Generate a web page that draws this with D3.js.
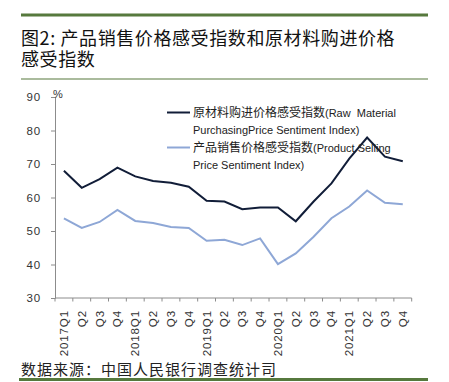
<!DOCTYPE html>
<html><head><meta charset="utf-8">
<script src="https://cdn.jsdelivr.net/npm/d3@7"></script>
<style>
html,body{margin:0;padding:0;background:#fff;}
svg{display:block;}
</style></head>
<body>
<script>
const categories = ["2017Q1","Q2","Q3","Q4","2018Q1","Q2","Q3","Q4","2019Q1","Q2","Q3","Q4","2020Q1","Q2","Q3","Q4","2021Q1","Q2","Q3","Q4"];
const rawMaterial = [68.0,62.9,65.5,68.9,66.3,64.9,64.4,63.2,59.0,58.8,56.5,57.0,57.0,52.9,58.8,64.2,71.6,77.9,72.2,70.8];
const productSelling = [53.8,50.9,52.7,56.3,53.0,52.4,51.2,50.9,47.1,47.4,45.8,47.8,40.1,43.3,48.3,53.8,57.3,62.1,58.4,58.0];
const yTicks = [30,40,50,60,70,80,90];
const titleLines = ["图2: 产品销售价格感受指数和原材料购进价格","感受指数"];
const legendRaw = ["原材料购进价格感受指数(Raw  Material","PurchasingPrice Sentiment Index)"];
const legendProd = ["产品销售价格感受指数(Product Selling","Price Sentiment Index)"];
const sourceText = "数据来源：中国人民银行调查统计司";

const W = 449, H = 382;
const svg = d3.select("body").append("svg").attr("width", W).attr("height", H);
const green = "#56793d";
const cjk = "'Noto Sans CJK SC', sans-serif";

// header
svg.append("rect").attr("x",21).attr("y",13.5).attr("width",407).attr("height",3).attr("fill",green);
svg.append("rect").attr("x",21).attr("y",78.5).attr("width",407).attr("height",1).attr("fill",green);
const title = svg.append("text").attr("x",21).attr("y",45).attr("font-family",cjk)
  .attr("font-size",18).attr("letter-spacing",0.6).attr("fill","#111");
titleLines.forEach((t,i)=>{
  title.append("tspan").attr("x",21).attr("dy", i===0 ? 0 : 21).text(t);
});

// footer
svg.append("text").attr("x",21).attr("y",374.5).attr("font-family",cjk).attr("font-size",15)
  .attr("fill","#222").attr("letter-spacing",1).text(sourceText);
svg.append("rect").attr("x",19).attr("y",378).attr("width",409).attr("height",3).attr("fill",green);

// scales
const x = d3.scaleBand().domain(d3.range(categories.length)).range([55,411.7]);
const y = d3.scaleLinear().domain([30,90]).range([298,97]);
const axisColor = "#8c8c8c";
const tickFont = "'Liberation Sans', Arial, sans-serif";

// y axis
const yAxis = svg.append("g").attr("transform","translate(55,0)")
  .call(d3.axisLeft(y).tickValues(yTicks).tickSize(4).tickPadding(10).tickFormat(d3.format("d")));
yAxis.select(".domain").attr("stroke",axisColor);
yAxis.selectAll(".tick line").attr("stroke",axisColor);
yAxis.selectAll("text").attr("font-family",tickFont).attr("font-size",11.5).attr("fill","#333").attr("letter-spacing",0.8);

svg.append("text").attr("x",53).attr("y",98).attr("font-family",tickFont).attr("font-size",11)
  .attr("fill","#333").text("%");

// x axis
const xAxisG = svg.append("g").attr("transform","translate(0,298)");
xAxisG.append("line").attr("x1",55).attr("x2",411.7).attr("y1",0).attr("y2",0).attr("stroke",axisColor);
const bounds = d3.range(categories.length+1).map(i => i===categories.length ? x.range()[1] : x(i));
xAxisG.selectAll("line.tk").data(bounds).enter().append("line").attr("class","tk")
  .attr("x1",d=>d).attr("x2",d=>d).attr("y1",0).attr("y2",3.5).attr("stroke",axisColor);
xAxisG.selectAll("text.lbl").data(categories).enter().append("text").attr("class","lbl")
  .attr("transform",(d,i)=>`translate(${x(i)+x.bandwidth()/2+4},12) rotate(-90)`)
  .attr("text-anchor","end").attr("font-family",tickFont).attr("font-size",11.5)
  .attr("letter-spacing",0.9).attr("fill","#333").text(d=>d);

// lines
const line = d3.line().x((d,i)=>x(i)+x.bandwidth()/2).y(d=>y(d));
svg.append("path").datum(productSelling).attr("d",line).attr("fill","none")
  .attr("stroke","#8ea7d6").attr("stroke-width",2);
svg.append("path").datum(rawMaterial).attr("d",line).attr("fill","none")
  .attr("stroke","#111d38").attr("stroke-width",2);

// legend
function legendItem(yy, color, lines){
  svg.append("line").attr("x1",167).attr("x2",190).attr("y1",yy).attr("y2",yy)
    .attr("stroke",color).attr("stroke-width",2);
  lines.forEach((t,i)=>{
    const tx = svg.append("text").attr("x",193).attr("y",yy+4.5+i*16.5)
      .attr("font-size",11).attr("fill","#222");
    if(i===0){
      const k = t.indexOf("(");
      tx.append("tspan").attr("font-family",cjk).attr("font-size",12).text(t.slice(0,k));
      tx.append("tspan").attr("font-family",tickFont).style("white-space","pre").text(t.slice(k));
    } else {
      tx.attr("font-family",tickFont).text(t);
    }
  });
}
legendItem(112.5, "#111d38", legendRaw);
legendItem(147.5, "#8ea7d6", legendProd);
</script>
</body></html>
